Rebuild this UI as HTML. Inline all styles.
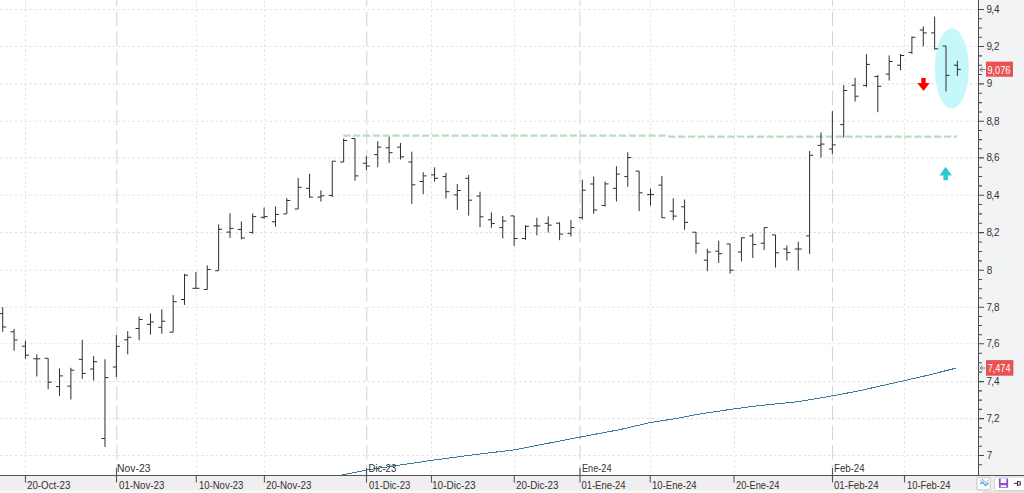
<!DOCTYPE html><html><head><meta charset="utf-8"><style>html,body{margin:0;padding:0;background:#fff;}body{width:1024px;height:493px;overflow:hidden;position:relative;}svg{position:absolute;left:0;top:0;display:block;}text{font-family:"Liberation Sans",sans-serif;}</style></head><body><svg width="1024" height="493" viewBox="0 0 1024 493"><rect x="0" y="0" width="1024" height="493" fill="#ffffff"/><rect x="979" y="0" width="45" height="476" fill="#f2f3f5"/><rect x="0" y="476" width="1024" height="17" fill="#efefef"/><rect x="0" y="490.5" width="1024" height="2.5" fill="#f8f8f8"/><rect x="983" y="491" width="41" height="2" fill="#e2e2e2"/><g stroke="#e3e3e3" stroke-width="1.1" stroke-dasharray="2.5 2.4"><line x1="0" y1="455.5" x2="978" y2="455.5"/><line x1="0" y1="418.6" x2="978" y2="418.6"/><line x1="0" y1="381.6" x2="978" y2="381.6"/><line x1="0" y1="343.8" x2="978" y2="343.8"/><line x1="0" y1="307.3" x2="978" y2="307.3"/><line x1="0" y1="270.3" x2="978" y2="270.3"/><line x1="0" y1="232.6" x2="978" y2="232.6"/><line x1="0" y1="195.2" x2="978" y2="195.2"/><line x1="0" y1="157.9" x2="978" y2="157.9"/><line x1="0" y1="121.3" x2="978" y2="121.3"/><line x1="0" y1="83.9" x2="978" y2="83.9"/><line x1="0" y1="46.5" x2="978" y2="46.5"/><line x1="0" y1="9.5" x2="978" y2="9.5"/></g><g stroke="#e6e6e6" stroke-width="1" stroke-dasharray="2.5 2.4" shape-rendering="crispEdges"><line x1="25.5" y1="0" x2="25.5" y2="475"/><line x1="196.5" y1="0" x2="196.5" y2="475"/><line x1="264.5" y1="0" x2="264.5" y2="475"/><line x1="431.5" y1="0" x2="431.5" y2="475"/><line x1="514.5" y1="0" x2="514.5" y2="475"/><line x1="650.5" y1="0" x2="650.5" y2="475"/><line x1="734.5" y1="0" x2="734.5" y2="475"/><line x1="904.5" y1="0" x2="904.5" y2="475"/></g><g stroke="#d6d6d6" stroke-width="1.1" stroke-dasharray="14.6 5.1" stroke-dashoffset="8.1"><line x1="116.8" y1="0" x2="116.8" y2="475"/><line x1="366.8" y1="0" x2="366.8" y2="475"/><line x1="580.0" y1="0" x2="580.0" y2="475"/><line x1="832.5" y1="0" x2="832.5" y2="475"/></g><polyline fill="none" stroke="#3a7d9e" stroke-width="1" shape-rendering="crispEdges" points="341,475.2 366.5,470 431.5,460.4 470,455.2 514,449.9 580,437.1 620,429.6 650.5,422.5 680,417.9 695,414.7 734,408.9 760,405.5 799,401.6 832,395.9 857.7,391.1 904,380.7 928,375.2 956.4,368"/><path d="M343.3 135.7H667" stroke="#bddbbd" stroke-width="2.3" stroke-dasharray="7.2 2.645" fill="none"/><path d="M667 136.7H957" stroke="#bddbbd" stroke-width="2.3" stroke-dasharray="7.2 2.645" stroke-dashoffset="8.66" fill="none"/><ellipse cx="951.8" cy="68.5" rx="17" ry="40" fill="#c6f7fb"/><path fill="none" stroke="#2e2e2e" stroke-width="1" d="M2.70 307.1V331.8M-0.80 313.6H2.70M2.70 327.0H6.20M14.07 329.0V350.7M10.57 331.8H14.07M14.07 340.0H17.57M25.43 340.6V358.8M21.93 346.2H25.43M25.43 355.2H28.93M36.80 354.4V376.5M33.30 358.8H36.80M36.80 358.8H40.30M48.16 358.3V389.2M44.66 358.3H48.16M48.16 382.2H51.66M59.53 368.3V395.9M56.03 386.6H59.53M59.53 375.9H63.03M70.89 367.8V399.5M67.39 386.1H70.89M70.89 370.2H74.39M82.26 339.8V378.8M78.76 359.3H82.26M82.26 373.4H85.76M93.62 356.1V380.5M90.12 369.0H93.62M93.62 361.7H97.12M104.98 359.3V447.0M101.48 438.5H104.98M104.98 377.6H108.48M116.35 334.9V377.0M112.85 367.0H116.35M116.35 346.3H119.85M127.72 331.2V354.4M124.22 339.8H127.72M127.72 337.3H131.22M139.08 316.6V340.2M135.58 328.5H139.08M139.08 319.5H142.58M150.44 313.4V334.6M146.94 324.4H150.44M150.44 322.0H153.94M161.81 309.3V333.7M158.31 327.3H161.81M161.81 321.2H165.31M173.17 295.1V332.2M169.67 332.2H173.17M173.17 301.7H176.67M184.54 273.8V304.9M181.04 299.5H184.54M184.54 275.2H188.04M195.91 272.0V288.3M192.41 288.3H195.91M195.91 288.3H199.41M207.27 265.4V289.5M203.77 289.5H207.27M207.27 269.5H210.77M218.63 224.4V270.7M215.13 270.7H218.63M218.63 229.3H222.13M230.00 213.2V237.8M226.50 232.1H230.00M230.00 228.4H233.50M241.36 221.5V239.3M237.86 229.5H241.36M241.36 238.0H244.86M252.73 213.4V233.7M249.23 232.4H252.73M252.73 216.6H256.23M264.09 207.6V219.0M260.59 217.3H264.09M264.09 216.6H267.59M275.46 206.5V226.8M271.96 221.8H275.46M275.46 214.4H278.96M286.82 198.0V213.9M283.32 213.9H286.82M286.82 200.5H290.32M298.19 178.0V209.0M294.69 209.0H298.19M298.19 187.3H301.69M309.56 173.7V197.6M306.06 188.3H309.56M309.56 197.1H313.06M320.92 190.4V201.6M317.42 197.1H320.92M320.92 195.8H324.42M332.28 161.2V197.1M328.78 195.4H332.28M332.28 161.2H335.78M343.65 138.5V162.0M340.15 162.0H343.65M343.65 140.5H347.15M355.01 138.5V180.7M351.51 138.5H355.01M355.01 175.9H358.51M366.38 156.1V170.2M362.88 163.2H366.38M366.38 166.1H369.88M377.75 141.2V167.3M374.25 154.6H377.75M377.75 147.1H381.25M389.11 136.8V162.9M385.61 147.8H389.11M389.11 152.7H392.61M400.48 142.9V159.5M396.98 147.1H400.48M400.48 156.8H403.98M411.84 151.7V203.9M408.34 162.0H411.84M411.84 184.8H415.34M423.20 172.2V194.1M419.70 181.5H423.20M423.20 175.9H426.70M434.57 167.3V181.5M431.07 174.9H434.57M434.57 178.3H438.07M445.94 172.9V198.5M442.44 176.6H445.94M445.94 191.7H449.44M457.30 183.9V210.0M453.80 194.9H457.30M457.30 190.5H460.80M468.67 175.1V215.6M465.17 178.3H468.67M468.67 200.2H472.17M480.03 191.7V227.1M476.53 196.1H480.03M480.03 216.8H483.53M491.39 212.4V227.8M487.89 219.8H491.39M491.39 223.4H494.89M502.76 216.0V238.5M499.26 227.6H502.76M502.76 221.0H506.26M514.12 215.9V245.9M510.62 215.9H514.12M514.12 238.5H517.62M525.49 225.1V239.8M521.99 238.5H525.49M525.49 226.3H528.99M536.86 217.8V235.4M533.36 225.9H536.86M536.86 225.9H540.36M548.22 216.4V232.6M544.72 223.3H548.22M548.22 225.1H551.72M559.59 222.4V240.2M556.09 223.2H559.59M559.59 234.1H563.09M570.95 220.0V236.6M567.45 233.4H570.95M570.95 227.6H574.45M582.32 179.8V219.5M578.82 217.6H582.32M582.32 190.2H585.82M593.68 176.5V213.8M590.18 184.0H593.68M593.68 210.0H597.18M605.05 181.5V206.6M601.55 205.4H605.05M605.05 183.9H608.55M616.41 166.3V201.5M612.91 188.3H616.41M616.41 174.1H619.91M627.78 152.2V186.8M624.28 176.6H627.78M627.78 157.6H631.28M639.14 171.1V211.2M635.64 171.1H639.14M639.14 192.8H642.64M650.51 188.8V205.6M647.01 194.6H650.51M650.51 194.6H654.01M661.87 175.9V217.8M658.37 185.1H661.87M661.87 217.8H665.37M673.24 198.3V220.2M669.74 211.2H673.24M673.24 216.1H676.74M684.60 199.5V229.8M681.10 206.8H684.60M684.60 222.4H688.10M695.97 232.2V253.7M692.47 232.2H695.97M695.97 243.2H699.47M707.33 248.8V271.2M703.83 260.2H707.33M707.33 252.0H710.83M718.70 240.7V262.9M715.20 251.2H718.70M718.70 253.7H722.20M730.06 243.9V273.7M726.56 243.9H730.06M730.06 270.2H733.56M741.43 237.5V261.3M737.93 252.0H741.43M741.43 237.8H744.93M752.79 233.4V258.0M749.29 235.9H752.79M752.79 244.6H756.29M764.16 227.6V250.0M760.66 243.2H764.16M764.16 227.6H767.66M775.52 234.9V267.5M772.02 234.9H775.52M775.52 252.8H779.02M786.89 245.5V260.5M783.39 249.0H786.89M786.89 252.6H790.39M798.25 241.7V270.5M794.75 249.0H798.25M798.25 249.0H801.75M809.62 151.0V253.9M806.12 235.9H809.62M809.62 155.3H813.12M820.98 132.4V157.6M817.48 145.4H820.98M820.98 144.1H824.48M832.35 111.2V153.9M828.85 149.0H832.35M832.35 144.9H835.85M843.71 85.1V137.6M840.21 124.6H843.71M843.71 90.5H847.21M855.08 77.8V101.6M851.58 85.2H855.08M855.08 96.2H858.58M866.44 54.1V87.1M862.94 85.4H866.44M866.44 64.4H869.94M877.81 74.9V112.2M874.31 76.6H877.81M877.81 86.3H881.31M889.17 55.4V80.5M885.67 74.1H889.17M889.17 61.5H892.67M900.54 54.0V70.3M897.04 65.2H900.54M900.54 55.5H904.04M911.90 36.6V54.1M908.40 52.4H911.90M911.90 37.3H915.40M923.27 26.3V46.3M919.77 30.0H923.27M923.27 32.9H926.77M934.63 16.6V49.5M931.13 32.9H934.63M934.63 48.8H938.13M946.00 46.0V91.5M942.50 46.0H946.00M946.00 75.4H949.50M957.36 60.8V75.9M953.86 65.2H957.36M957.36 69.4H960.86"/><path d="M921.3 77.9H925.7V82.9H929.6L923.5 91L917.3 82.9H921.3Z" fill="#ff0000"/><path d="M945.6 166.8L951.9 175.6H947.9V180.3H943.4V175.6H939.4Z" fill="#2ec9c9"/><line x1="978.5" y1="0" x2="978.5" y2="476" stroke="#4a4a4a" stroke-width="1" shape-rendering="crispEdges"/><path fill="none" stroke="#4a4a4a" stroke-width="1.1" d="M979 464.80H982M979 455.50H984M979 446.28H982M979 437.05H982M979 427.83H982M979 418.60H984M979 409.35H982M979 400.10H982M979 390.85H982M979 381.60H984M979 372.15H982M979 362.70H982M979 353.25H982M979 343.80H984M979 334.68H982M979 325.55H982M979 316.43H982M979 307.30H984M979 298.05H982M979 288.80H982M979 279.55H982M979 270.30H984M979 260.87H982M979 251.45H982M979 242.03H982M979 232.60H984M979 223.25H982M979 213.90H982M979 204.55H982M979 195.20H984M979 185.88H982M979 176.55H982M979 167.22H982M979 157.90H984M979 148.75H982M979 139.60H982M979 130.45H982M979 121.30H984M979 111.95H982M979 102.60H982M979 93.25H982M979 83.90H984M979 74.55H982M979 65.20H982M979 55.85H982M979 46.50H984M979 37.25H982M979 28.00H982M979 18.75H982M979 9.50H984"/><g fill="#333" font-size="10.5"><text transform="translate(987 459.05) scale(0.943 1)" x="-0.36" y="0">7</text><text transform="translate(987 422.15) scale(0.943 1)" x="-0.46 4.6 7.39" y="0">7,2</text><text transform="translate(987 385.15) scale(0.943 1)" x="-0.46 4.6 7.39" y="0">7,4</text><text transform="translate(987 347.35) scale(0.943 1)" x="-0.46 4.6 7.39" y="0">7,6</text><text transform="translate(987 310.85) scale(0.943 1)" x="-0.46 4.6 7.39" y="0">7,8</text><text transform="translate(987 273.85) scale(0.943 1)" x="-0.36" y="0">8</text><text transform="translate(987 236.15) scale(0.943 1)" x="-0.46 4.6 7.39" y="0">8,2</text><text transform="translate(987 198.75) scale(0.943 1)" x="-0.46 4.6 7.39" y="0">8,4</text><text transform="translate(987 161.45) scale(0.943 1)" x="-0.46 4.6 7.39" y="0">8,6</text><text transform="translate(987 124.85) scale(0.943 1)" x="-0.46 4.6 7.39" y="0">8,8</text><text transform="translate(987 87.45) scale(0.943 1)" x="-0.36" y="0">9</text><text transform="translate(987 50.05) scale(0.943 1)" x="-0.46 4.6 7.39" y="0">9,2</text><text transform="translate(987 13.05) scale(0.943 1)" x="-0.46 4.6 7.39" y="0">9,4</text></g><rect x="986" y="61.6" width="27" height="15.1" fill="#e85252"/><text x="987.5" y="73.5" font-size="10.5" fill="#fff" textLength="22.8" lengthAdjust="spacingAndGlyphs">9,076</text><rect x="986" y="360.1" width="27.4" height="15.6" fill="#e85252"/><text x="987.7" y="372.3" font-size="10.5" fill="#fff" textLength="22.8" lengthAdjust="spacingAndGlyphs">7,474</text><path d="M980 69.5H985.5M980 69.5L982.5 67M980 69.5L982.5 72" fill="none" stroke="#555" stroke-width="0.8"/><path d="M980 368H985.5M980 368L982.5 365.5M980 368L982.5 370.5" fill="none" stroke="#555" stroke-width="0.8"/><line x1="0" y1="475.5" x2="1024" y2="475.5" stroke="#555" stroke-width="1" shape-rendering="crispEdges"/><path fill="none" stroke="#555" stroke-width="1.1" d="M25.5 475V482.5M116.5 468V482.5M196.3 475V482.5M264.4 475V482.5M366.5 468V482.5M431.5 475V482.5M514.3 475V482.5M580.0 468V482.5M650.2 475V482.5M734.0 475V482.5M832.5 468V482.5M904.5 475V482.5"/><g fill="#333" font-size="10.5"><text x="27.00" y="488.5" textLength="43.42" lengthAdjust="spacingAndGlyphs">20-Oct-23</text><text x="119.00" y="488.5" textLength="45.43" lengthAdjust="spacingAndGlyphs">01-Nov-23</text><text x="199.00" y="488.5" textLength="44.41" lengthAdjust="spacingAndGlyphs">10-Nov-23</text><text x="266.00" y="488.5" textLength="45.42" lengthAdjust="spacingAndGlyphs">20-Nov-23</text><text x="369.00" y="488.5" textLength="41.44" lengthAdjust="spacingAndGlyphs">01-Dic-23</text><text x="432.00" y="488.5" textLength="43.57" lengthAdjust="spacingAndGlyphs">10-Dic-23</text><text x="516.00" y="488.5" textLength="42.46" lengthAdjust="spacingAndGlyphs">20-Dic-23</text><text x="581.40" y="488.5" textLength="44.23" lengthAdjust="spacingAndGlyphs">01-Ene-24</text><text x="652.00" y="488.5" textLength="44.54" lengthAdjust="spacingAndGlyphs">10-Ene-24</text><text x="736.00" y="488.5" textLength="43.46" lengthAdjust="spacingAndGlyphs">20-Ene-24</text><text x="834.00" y="488.5" textLength="44.50" lengthAdjust="spacingAndGlyphs">01-Feb-24</text><text x="907.00" y="488.5" textLength="43.46" lengthAdjust="spacingAndGlyphs">10-Feb-24</text><text x="117.00" y="471.6" textLength="33.51" lengthAdjust="spacingAndGlyphs">Nov-23</text><text x="368.60" y="471.6" textLength="27.62" lengthAdjust="spacingAndGlyphs">Dic-23</text><text x="582.00" y="471.6" textLength="29.50" lengthAdjust="spacingAndGlyphs">Ene-24</text><text x="834.00" y="471.6" textLength="30.51" lengthAdjust="spacingAndGlyphs">Feb-24</text></g><rect x="976.9" y="477.5" width="13.4" height="12.3" rx="1.2" fill="#fff" stroke="#d2d2d2" stroke-width="1.4"/><polyline points="980.2,481.2 982.5,479.2 985.7,482.5 988.6,480.2" fill="none" stroke="#9a9a9a" stroke-width="1"/><polyline points="980.2,484.1 982.5,482.2 985.7,485.4 988.6,482.8" fill="none" stroke="#62b0e2" stroke-width="1.6"/><rect x="994.5" y="477" width="31" height="13.5" rx="1" fill="#fff" stroke="#d4d4d4" stroke-width="1"/><path d="M998.9 478.2H1000.7V487.7H998.9ZM1006.3 478.2H1008.1V487.7H1006.3ZM998.9 483H1008.1V485.2H998.9ZM998.9 486.9H1008.1V487.7H998.9Z" fill="#8b55c9"/><rect x="998.9" y="477.8" width="9.2" height="0.9" fill="#cdb4ea"/><path d="M1014 483.3H1017.5M1017.5 481V486M1017.5 481.7H1020.3V485H1017.5" fill="none" stroke="#333" stroke-width="1"/></svg></body></html>
